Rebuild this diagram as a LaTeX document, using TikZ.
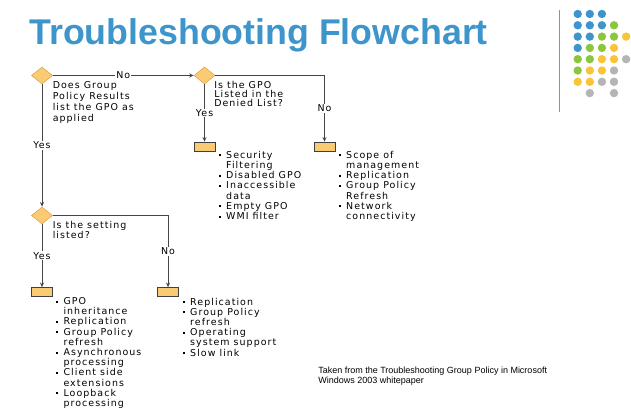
\documentclass[tikz,border=0pt]{standalone}
\usepackage{fontspec}
\setmainfont{Liberation Sans}
\newfontfamily\chartfont[LetterSpace=11]{DejaVu Sans}
\usetikzlibrary{shapes.geometric,arrows.meta}

\definecolor{titleblue}{HTML}{3D95CB}
\definecolor{dotgreen}{HTML}{8CC63F}
\definecolor{dotyellow}{HTML}{F8C53A}
\definecolor{dotgray}{HTML}{B5B5B5}
\definecolor{boxfill}{HTML}{FBCB74}
\definecolor{diamondline}{HTML}{D9A24A}
\definecolor{linkgray}{HTML}{454545}

\newcommand{\blt}{\makebox[5.6pt][l]{\rule[1.5pt]{1.5pt}{1.5pt}}}
\newcommand{\ind}{\hspace*{5.6pt}}

\tikzset{
  decision/.style={diamond, draw=diamondline, fill=boxfill, minimum width=15.75pt, minimum height=12.75pt, inner sep=0pt},
  result/.style={rectangle, draw=black!75, fill=boxfill, minimum width=15.75pt, minimum height=6.75pt, inner sep=0pt},
  link/.style={draw=linkgray, line width=0.6pt, -{Stealth[length=3.5pt,width=3pt]}},
  answer/.style={fill=white, inner sep=0.6pt, font=\chartfont\fontsize{7.1}{7.1}\selectfont},
  question/.style={anchor=base west, inner sep=0pt, align=left, font=\chartfont\fontsize{7.1}{7.1}\selectfont},
  causes/.style={anchor=base west, inner sep=0pt, align=left, font=\chartfont\fontsize{7.1}{7.65}\selectfont},
}

\begin{document}
\begin{tikzpicture}[x=0.75pt,y=0.75pt,yscale=-1,xscale=1]
    \useasboundingbox (0,0) rectangle (631,417);

    % Title
    \draw (29,45) node [anchor=base west][inner sep=0pt, font=\fontsize{26.8}{30}\selectfont\bfseries, text=titleblue] (title) {Troubleshooting Flowchart};

    %Straight Lines: separator
    \draw [color=dotgray!80!black, line width=1.1pt] (559.5,10) -- (559.5,112) ;

    %Shapes: dots
    \foreach \c/\r in {1/1,2/1,3/1,1/2,2/2,3/2,1/3,2/3,1/4}
        \fill [titleblue] ({565.6+12.1*\c},{2.7+11.3*\r}) circle [radius=3.15pt];
    \foreach \c/\r in {4/2,3/3,4/3,2/4,3/4,1/5,2/5,1/6}
        \fill [dotgreen] ({565.6+12.1*\c},{2.7+11.3*\r}) circle [radius=3.15pt];
    \foreach \c/\r in {5/3,4/4,3/5,4/5,2/6,3/6,1/7,2/7}
        \fill [dotyellow] ({565.6+12.1*\c},{2.7+11.3*\r}) circle [radius=3.15pt];
    \foreach \c/\r in {5/5,4/6,3/7,4/7,2/8,4/8}
        \fill [dotgray] ({565.6+12.1*\c},{2.7+11.3*\r}) circle [radius=3.15pt];

    %Shape: Diamond
    \draw (42,75.5) node [decision] (q1) {};
    \draw (204.5,75.5) node [decision] (q2) {};
    \draw (42,215.5) node [decision] (q3) {};

    %Shape: Rectangle
    \draw (204.5,146.5) node [result] (r1) {};
    \draw (324.5,146.5) node [result] (r2) {};
    \draw (42,292) node [result] (r3) {};
    \draw (168,292) node [result] (r4) {};

    % Text Node (placed by its last line)
    \draw (52.5,121.5) node [question, font=\chartfont\fontsize{7.1}{8.3}\selectfont] (t1) {Does Group\\Policy Results\\list the GPO as\\applied};
    % Text Node
    \draw (214,107) node [question] (t2) {Is the GPO\\Listed in the\\Denied List?};
    % Text Node
    \draw (52.5,238) node [question] (t3) {Is the setting\\listed?};

    % Text Node
    \draw (218.5,219.5) node [causes] (l1) {\blt Security\\\ind Filtering\\\blt Disabled GPO\\\blt Inaccessible\\\ind data\\\blt Empty GPO\\\blt WMI filter};
    % Text Node
    \draw (338.5,219.5) node [causes] (l2) {\blt Scope of\\\ind management\\\blt Replication\\\blt Group Policy\\\ind Refresh\\\blt Network\\\ind connectivity};
    % Text Node
    \draw (55.8,406.5) node [causes] (l3) {\blt GPO\\\ind inheritance\\\blt Replication\\\blt Group Policy\\\ind refresh\\\blt Asynchronous\\\ind processing\\\blt Client side\\\ind extensions\\\blt Loopback\\\ind processing};
    % Text Node
    \draw (182.5,356) node [causes] (l4) {\blt Replication\\\blt Group Policy\\\ind refresh\\\blt Operating\\\ind system support\\\blt Slow link};

    %Connectors
    \draw [link] (q1.east) -- node [answer] {No} (q2.west) ;
    \draw [link] (q2.east) -| node [answer, pos=0.75] {No} (r2.north) ;
    \draw [link] (q2.south) -- node [answer] {Yes} (r1.north) ;
    \draw [link] (q1.south) -- node [answer] {Yes} (q3.north) ;
    \draw [link] (q3.east) -| node [answer, pos=0.75] {No} (r4.north) ;
    \draw [link] (q3.south) -- node [answer] {Yes} (r3.north) ;

    % Text Node
    \draw (318,383) node [anchor=base west][inner sep=0pt, align=left, font=\fontsize{6.75}{7.1}\selectfont] (note) {Taken from the Troubleshooting Group Policy in Microsoft\\Windows 2003 whitepaper};

\end{tikzpicture}
\end{document}
